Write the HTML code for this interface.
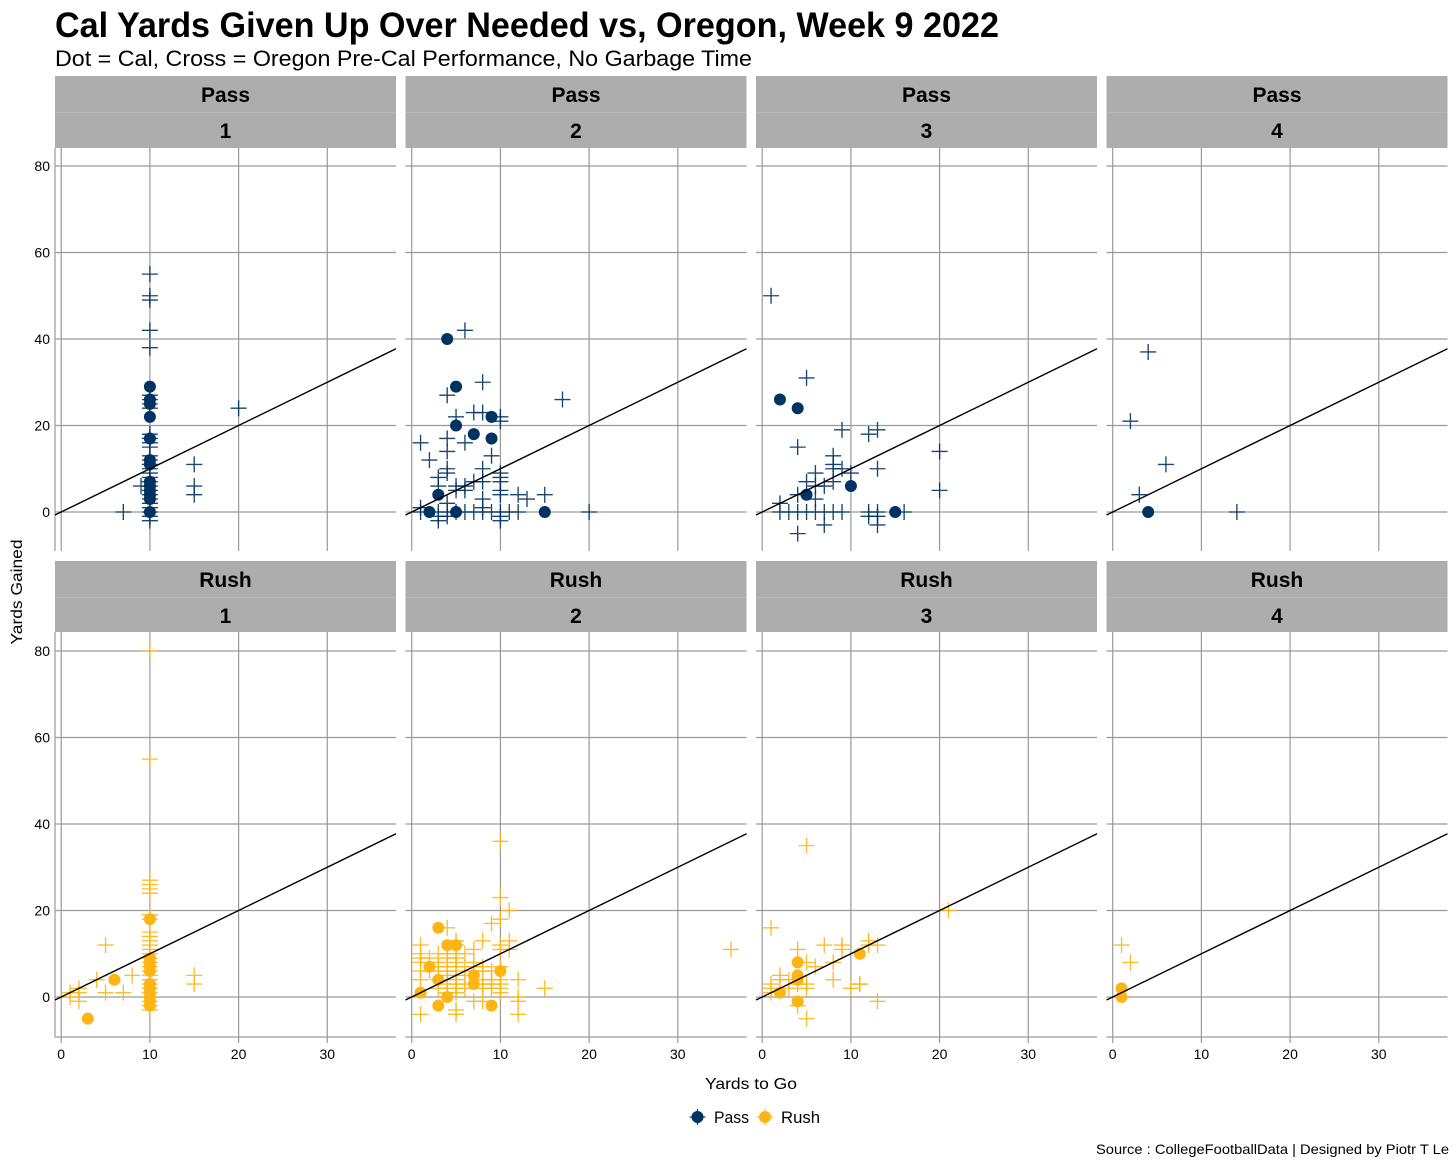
<!DOCTYPE html>
<html>
<head>
<meta charset="utf-8">
<title>Cal Yards Given Up Over Needed vs, Oregon, Week 9 2022</title>
<style>
html,body{margin:0;padding:0;background:#fff;width:1456px;height:1165px;overflow:hidden}
svg{display:block;font-family:"Liberation Sans",sans-serif}
</style>
</head>
<body>
<svg id="chart" xmlns="http://www.w3.org/2000/svg" width="1456" height="1165" viewBox="0 0 1456 1165">
  <text x="55" y="37" font-size="35" font-weight="700" fill="#000" textLength="944" lengthAdjust="spacingAndGlyphs">Cal Yards Given Up Over Needed vs, Oregon, Week 9 2022</text>
  <text x="55" y="66" font-size="22.5" fill="#000" textLength="697" lengthAdjust="spacingAndGlyphs">Dot = Cal, Cross = Oregon Pre-Cal Performance, No Garbage Time</text>
  <g id="panels"></g>
  <text transform="translate(22,592) rotate(-90)" text-anchor="middle" font-size="15.5" fill="#000" textLength="105" lengthAdjust="spacingAndGlyphs">Yards Gained</text>
  <text x="751" y="1089" text-anchor="middle" font-size="16" fill="#000" textLength="92" lengthAdjust="spacingAndGlyphs">Yards to Go</text>
  <g>
    <g>
      <path d="M689.5 1117h16M697.5 1109v16" stroke="#003262" stroke-width="1.3" opacity=".9"/>
      <circle cx="697.5" cy="1117" r="6" fill="#003262"/>
      <text x="714" y="1123" font-size="17" fill="#000" textLength="35" lengthAdjust="spacingAndGlyphs">Pass</text>
    </g>
    <g>
      <path d="M757 1117h16M765 1109v16" stroke="#FDB515" stroke-width="1.3" opacity=".9"/>
      <circle cx="765" cy="1117" r="6" fill="#FDB515"/>
      <text x="781" y="1123" font-size="17" fill="#000" textLength="39" lengthAdjust="spacingAndGlyphs">Rush</text>
    </g>
  </g>
  <text x="1096" y="1154" font-size="14" fill="#000" textLength="353" lengthAdjust="spacingAndGlyphs">Source : CollegeFootballData | Designed by Piotr T Le</text>
</svg>
<script>
const playTypes = ['Pass', 'Rush'];
const downs = [1, 2, 3, 4];
const xTicks = [0, 10, 20, 30];
const yTicks = [0, 20, 40, 60, 80];

// [yards to go, yards gained]
const pass1Crosses = [[10,55],[10,50],[10,49],[10,42],[10,38],[10,27],[10,26],[10,25],[10,24],[10,18],[10,17],[10,16],[10,15],[10,13],[10,12],[10,11],[10,10],[10,9],[10,8],[10,7],[10,6],[10,5],[10,4],[10,3],[10,2],[10,1],[10,0],[10,-1],[10,-2],[7,0],[9,6],[20,24],[15,11],[15,6],[15,4]];
const pass1Dots = [[10,29],[10,26],[10,25],[10,22],[10,17],[10,12],[10,11],[10,7],[10,6],[10,5],[10,4],[10,3],[10,0]];

const pass2Crosses = [[6,42],[8,30],[4,27],[17,26],[5,22],[7,23],[8,23],[10,22],[10,21],[1,16],[4,17],[6,16],[4,14],[9,13],[2,12],[4,10],[8,10],[10,9],[10,8],[10,7],[3,8],[4,9],[3,6],[5,6],[8,7],[7,7],[6,6],[5,5],[6,5],[10,5],[10,4],[12,4],[15,4],[13,3],[8,3],[4,2],[1,1],[8,1],[1,0],[3,0],[4,0],[5,0],[6,0],[7,0],[8,0],[9,0],[10,0],[11,0],[12,0],[20,0],[3,-2],[10,-2],[3,-1],[10,-1],[4,-1]];
const pass2Dots = [[4,40],[5,29],[9,22],[5,20],[7,18],[9,17],[3,4],[2,0],[5,0],[15,0]];

const pass3Crosses = [[1,50],[5,31],[9,19],[12,18],[13,19],[4,15],[8,13],[8,11],[8,10],[9,10],[10,9],[6,9],[20,14],[20,5],[13,10],[5,7],[7,6],[6,6],[8,7],[4,4],[6,3],[2,2],[2,0],[3,0],[4,0],[5,0],[6,0],[7,0],[8,0],[9,0],[12,0],[13,0],[16,0],[12,-1],[13,-1],[13,-3],[7,-3],[4,-5]];
const pass3Dots = [[2,26],[4,24],[10,6],[5,4],[15,0]];

const pass4Crosses = [[4,37],[2,21],[6,11],[3,4],[14,0]];
const pass4Dots = [[4,0]];

const rush1Crosses = [[10,80],[10,55],[10,27],[10,26],[10,25],[10,24],[10,19],[10,18],[10,15],[10,14],[10,13],[10,12],[10,11],[10,10],[10,9],[10,8],[10,7],[10,6],[10,5],[10,4],[10,3],[10,2],[10,1],[10,0],[10,-1],[10,-2],[10,-3],[5,12],[8,5],[4,4],[15,5],[15,3],[5,1],[7,1],[1,1],[2,2],[2,1],[2,-1],[1,0]];
const rush1Dots = [[10,18],[10,9],[10,8],[10,7],[10,6],[10,3],[10,2],[10,1],[10,0],[10,-1],[10,-2],[6,4],[3,-5]];

const rush2Crosses = [[10,36],[10,23],[11,20],[10,18],[9,17],[4,16],[5,13],[8,13],[11,13],[1,12],[10,12],[7,11],[10,11],[11,11],[1,10],[1,9],[1,8],[1,6],[1,4],[1,-4],[2,9],[2,6],[3,10],[3,8],[3,7],[3,6],[3,4],[3,2],[4,10],[4,9],[4,7],[4,6],[4,5],[4,3],[4,2],[4,1],[5,12],[5,10],[5,9],[5,8],[5,7],[5,6],[5,5],[5,4],[5,3],[5,2],[5,1],[5,-3],[5,-4],[6,10],[6,7],[6,5],[6,3],[6,2],[7,8],[7,7],[7,6],[7,-1],[8,7],[8,6],[8,4],[8,3],[8,2],[8,-1],[9,6],[9,4],[9,3],[9,2],[10,7],[10,4],[10,3],[10,2],[10,1],[12,4],[12,0],[12,-1],[12,-4],[15,2],[36,11]];
const rush2Dots = [[3,16],[4,12],[5,12],[2,7],[10,6],[7,5],[3,4],[7,3],[4,0],[1,1],[3,-2],[9,-2]];

const rush3Crosses = [[5,35],[21,20],[1,16],[4,11],[7,12],[9,12],[9,11],[12,13],[13,12],[5,8],[6,7],[8,8],[8,4],[11,3],[10,2],[13,-1],[5,-5],[2,5],[2,4],[1,3],[1,2],[1,1],[3,4],[3,2],[4,3],[5,3],[5,2],[4,-2],[12,12],[11,3]];
const rush3Dots = [[11,10],[4,8],[4,5],[4,4],[2,1],[4,-1]];

const rush4Crosses = [[1,12],[2,8]];
const rush4Dots = [[1,2],[1,0]];

const crossData = [[pass1Crosses, pass2Crosses, pass3Crosses, pass4Crosses], [rush1Crosses, rush2Crosses, rush3Crosses, rush4Crosses]];
const dotData = [[pass1Dots, pass2Dots, pass3Dots, pass4Dots], [rush1Dots, rush2Dots, rush3Dots, rush4Dots]];
const seriesColors = ['#003262', '#FDB515'];

const NS = 'http://www.w3.org/2000/svg';
const root = document.getElementById('panels');
const panelLeft = [55, 405.5, 756, 1106.5];
const panelW = 341;
const rowLayout = [
  {stripTop: 76, stripMid: 112, stripBottom: 148, bottom: 551, zero: 512},
  {stripTop: 561, stripMid: 597, stripBottom: 632, bottom: 1037, zero: 997}
];
const xUnit = 8.87, yUnit = 4.325, xInset = 6.2;

function mk(tag, attrs, parent) {
  const e = document.createElementNS(NS, tag);
  for (const k in attrs) e.setAttribute(k, attrs[k]);
  parent.appendChild(e);
  return e;
}
function xScale(col, v) { return panelLeft[col] + xInset + v * xUnit; }
function yScale(row, v) { return rowLayout[row].zero - v * yUnit; }

playTypes.forEach(function (type, r) {
  const L = rowLayout[r];
  downs.forEach(function (down, c) {
    const left = panelLeft[c], right = left + panelW;
    const g = mk('g', {}, root);
    
    

    const stripA = mk('rect', {x: left, y: L.stripTop, width: panelW, height: L.stripMid - L.stripTop, fill: '#adadad'}, g);
    
    
    const stripB = mk('rect', {x: left, y: L.stripMid + 0.6, width: panelW, height: L.stripBottom - L.stripMid - 0.6, fill: '#adadad'}, g);
    
    
    const sep = mk('rect', {x: left, y: L.stripMid, width: panelW, height: 0.8, fill: '#b6b6b6'}, g);
    
    

    const t1 = mk('text', {x: left + panelW / 2, y: L.stripTop + 26, 'text-anchor': 'middle', 'font-size': 21, 'font-weight': 700, fill: '#000'}, g);
    t1.textContent = type;
    
    
    const t2 = mk('text', {x: left + panelW / 2, y: L.stripMid + 26, 'text-anchor': 'middle', 'font-size': 21, 'font-weight': 700, fill: '#000'}, g);
    t2.textContent = down;
    
    

    yTicks.forEach(function (tick) {
      const gl = mk('line', {x1: left, x2: right, y1: yScale(r, tick), y2: yScale(r, tick), stroke: '#9a9a9a', 'stroke-width': 1.2}, g);
      
      
      if (c === 0) {
        const lab = mk('text', {x: 50, y: yScale(r, tick) + 5, 'text-anchor': 'end', 'font-size': 14, fill: '#000'}, g);
        lab.textContent = tick;
        
        
      }
    });
    xTicks.forEach(function (tick) {
      const gl = mk('line', {x1: xScale(c, tick), x2: xScale(c, tick), y1: L.stripBottom, y2: r === 1 ? L.bottom + 6 : L.bottom, stroke: '#9a9a9a', 'stroke-width': 1.2}, g);
      
      
      if (r === 1) {
        const lab = mk('text', {x: xScale(c, tick), y: L.bottom + 22, 'text-anchor': 'middle', 'font-size': 14, fill: '#000'}, g);
        lab.textContent = tick;
        
        
      }
    });
    if (c === 0) {
      const ax = mk('line', {x1: left, x2: left, y1: L.stripBottom, y2: L.bottom, stroke: '#9a9a9a', 'stroke-width': 1.2}, g);
      
      
    }
    if (r === 1) {
      const ax = mk('line', {x1: left, x2: right, y1: L.bottom, y2: L.bottom, stroke: '#9a9a9a', 'stroke-width': 1.2}, g);
      
      
    }

    crossData[r][c].forEach(function (p) {
      const cx = xScale(c, p[0]), cy = yScale(r, p[1]);
      const cross = mk('path', {d: 'M' + (cx - 8) + ' ' + cy + 'h16M' + cx + ' ' + (cy - 8) + 'v16', stroke: seriesColors[r], 'stroke-width': 1.35, fill: 'none', opacity: 0.9}, g);
      
      
    });
    dotData[r][c].forEach(function (p) {
      const dot = mk('circle', {cx: xScale(c, p[0]), cy: yScale(r, p[1]), r: 6, fill: seriesColors[r]}, g);
      
      
    });

    const loX = -xInset / xUnit, hiX = (panelW - xInset) / xUnit;
    const ref = mk('line', {x1: xScale(c, loX), y1: yScale(r, loX), x2: xScale(c, hiX), y2: yScale(r, hiX), stroke: '#000', 'stroke-width': 1.4}, g);
    
    
  });
});
</script>
</body>
</html>
